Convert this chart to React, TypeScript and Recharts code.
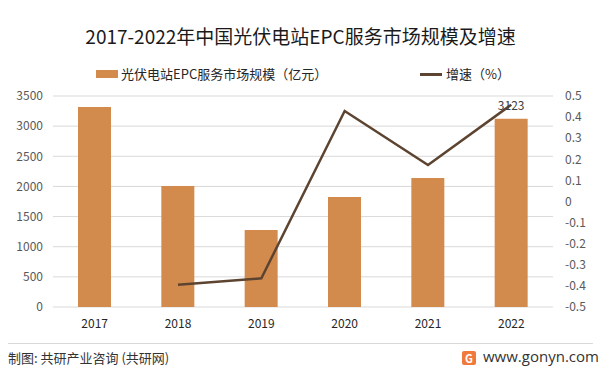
import React from "react";
import { ComposedChart, Bar, Line, XAxis, YAxis, CartesianGrid, Legend, LabelList } from "recharts";

const years = ["2017", "2018", "2019", "2020", "2021", "2022"];
const marketSize = [3318, 2007, 1277, 1825, 2140, 3123];
const growth: (number | null)[] = [null, -0.395, -0.364, 0.429, 0.173, 0.459];
const leftTicks = [0, 500, 1000, 1500, 2000, 2500, 3000, 3500];
const rightTicks = [-0.5, -0.4, -0.3, -0.2, -0.1, 0, 0.1, 0.2, 0.3, 0.4, 0.5];

const data = years.map((y, i) => ({ year: y, size: marketSize[i], growth: growth[i] }));

const BAR_COLOR = "#D38B4D";
const LINE_COLOR = "#5C4431";
const FONT = "'Noto Sans CJK SC', 'Noto Sans', sans-serif";

const renderLegend = () => (
  <div style={{ position: "relative", height: 20, fontFamily: FONT, fontSize: 13, color: "#262626" }}>
    <div style={{ position: "absolute", left: 96, top: 4, width: 22, height: 8, background: BAR_COLOR }} />
    <div style={{ position: "absolute", left: 121, top: -2, whiteSpace: "nowrap" }}>光伏电站EPC服务市场规模（亿元）</div>
    <div style={{ position: "absolute", left: 420, top: 7, width: 22, height: 3, background: LINE_COLOR }} />
    <div style={{ position: "absolute", left: 446, top: -2, whiteSpace: "nowrap" }}>增速（%）</div>
  </div>
);

const lastLabel = (props: any) => {
  const { x, y, width, index } = props;
  if (index !== years.length - 1) return null;
  return (
    <text x={x + width / 2} y={y - 9} textAnchor="middle" fontSize={12} fill="#404040" fontFamily={FONT}>
      {marketSize[index]}
    </text>
  );
};

export default function App() {
  return (
    <div style={{ position: "absolute", left: 0, top: 0, width: 601, height: 377, background: "#fff", fontFamily: FONT }}>
      <div style={{ position: "absolute", left: 0, top: 22, width: 601, textAlign: "center", fontSize: 19, color: "#1a1a1a", whiteSpace: "nowrap" }}>
        2017-2022年中国光伏电站EPC服务市场规模及增速
      </div>
      <ComposedChart
        width={601}
        height={377}
        data={data}
        margin={{ top: 75, right: 8, bottom: 40, left: 3 }}
        barCategoryGap={0}
      >
        <CartesianGrid yAxisId="left" vertical={false} stroke="#D9D9D9" />
        <XAxis
          dataKey="year"
          axisLine={false}
          tickLine={false}
          tickMargin={6}
          height={30}
          tick={{ fontSize: 12, fill: "#262626", fontFamily: FONT }}
        />
        <YAxis
          yAxisId="left"
          domain={[0, 3500]}
          ticks={leftTicks}
          interval={0}
          width={50}
          axisLine={false}
          tickLine={false}
          tickMargin={4}
          tick={{ fontSize: 12, fill: "#595959", fontFamily: FONT }}
        />
        <YAxis
          yAxisId="right"
          orientation="right"
          domain={[-0.5, 0.5]}
          ticks={rightTicks}
          interval={0}
          width={40}
          axisLine={false}
          tickLine={false}
          tickMargin={6}
          tick={{ fontSize: 12, fill: "#595959", fontFamily: FONT }}
        />
        <Legend verticalAlign="top" height={21} content={renderLegend} wrapperStyle={{ top: 66, left: 0, width: 601 }} />
        <Bar yAxisId="left" dataKey="size" fill={BAR_COLOR} barSize={33} isAnimationActive={false}>
          <LabelList dataKey="size" content={lastLabel} />
        </Bar>
        <Line
          yAxisId="right"
          dataKey="growth"
          stroke={LINE_COLOR}
          strokeWidth={2.5}
          dot={false}
          activeDot={false}
          connectNulls={false}
          isAnimationActive={false}
        />
      </ComposedChart>
      <div style={{ position: "absolute", left: 8, right: 8, top: 343, height: 1, background: "#D9D9D9" }} />
      <div style={{ position: "absolute", left: 8, top: 348, fontSize: 13, color: "#333", whiteSpace: "nowrap" }}>
        制图: 共研产业咨询 (共研网)
      </div>
      <div style={{ position: "absolute", left: 462, top: 351, width: 14, height: 14, background: "#F07A3C", borderRadius: 2, color: "#fff", fontSize: 11, fontWeight: 700, textAlign: "center", lineHeight: "14px" }}>
        G
      </div>
      <div style={{ position: "absolute", left: 483, top: 346, fontSize: 15, color: "#333", whiteSpace: "nowrap", fontFamily: "'Open Sans', sans-serif" }}>
        www.gonyn.com
      </div>
    </div>
  );
}
